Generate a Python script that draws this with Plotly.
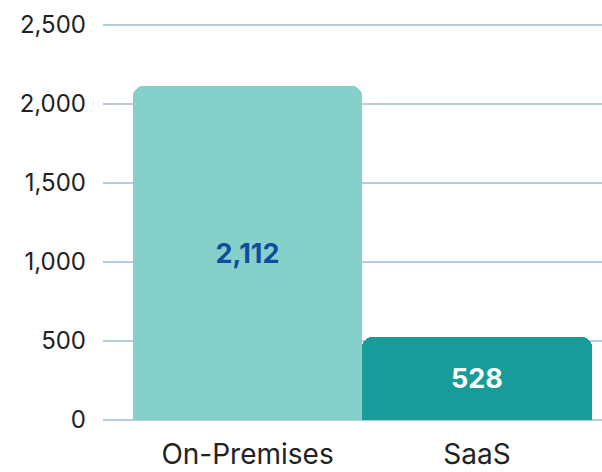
import plotly.graph_objects as go

categories = ["On-Premises", "SaaS"]
values = [2112, 528]
bar_colors = ["#86D0CA", "#179C9A"]
label_colors = ["#0F4C9E", "#FFFFFF"]
y_ticks = [0, 500, 1000, 1500, 2000, 2500]

fig = go.Figure(
    go.Bar(
        x=categories,
        y=values,
        marker=dict(color=bar_colors, line=dict(width=0)),
        texttemplate="<b>%{y:,}</b>",
        textposition="inside",
        insidetextanchor="middle",
        textangle=0,
        textfont=dict(family="Inter", size=27, color=label_colors),
        hoverinfo="skip",
        cliponaxis=False,
    )
)

fig.update_layout(
    width=602,
    height=472,
    margin=dict(l=103, r=0, t=23, b=50),
    paper_bgcolor="white",
    plot_bgcolor="white",
    bargap=0,
    barcornerradius=10,
    showlegend=False,
    font=dict(family="Inter", color="#222222"),
    xaxis=dict(
        type="category",
        range=[-0.63, 1.545],
        showgrid=False,
        zeroline=False,
        showline=False,
        ticks="",
        tickfont=dict(size=28, color="#222222"),
        ticklabelstandoff=13,
        automargin=False,
    ),
    yaxis=dict(
        range=[-12.7, 2512.7],
        tickvals=y_ticks,
        tickformat=",",
        showgrid=True,
        gridcolor="#B7CBE5",
        gridwidth=2,
        zeroline=False,
        showline=False,
        ticks="",
        tickfont=dict(size=24, color="#222222"),
        ticklabelstandoff=16,
        automargin=False,
    ),
)

fig.write_html(
    "out.html",
    config={"displayModeBar": False},
    post_script="document.body.style.margin='0';document.documentElement.style.margin='0';",
)
